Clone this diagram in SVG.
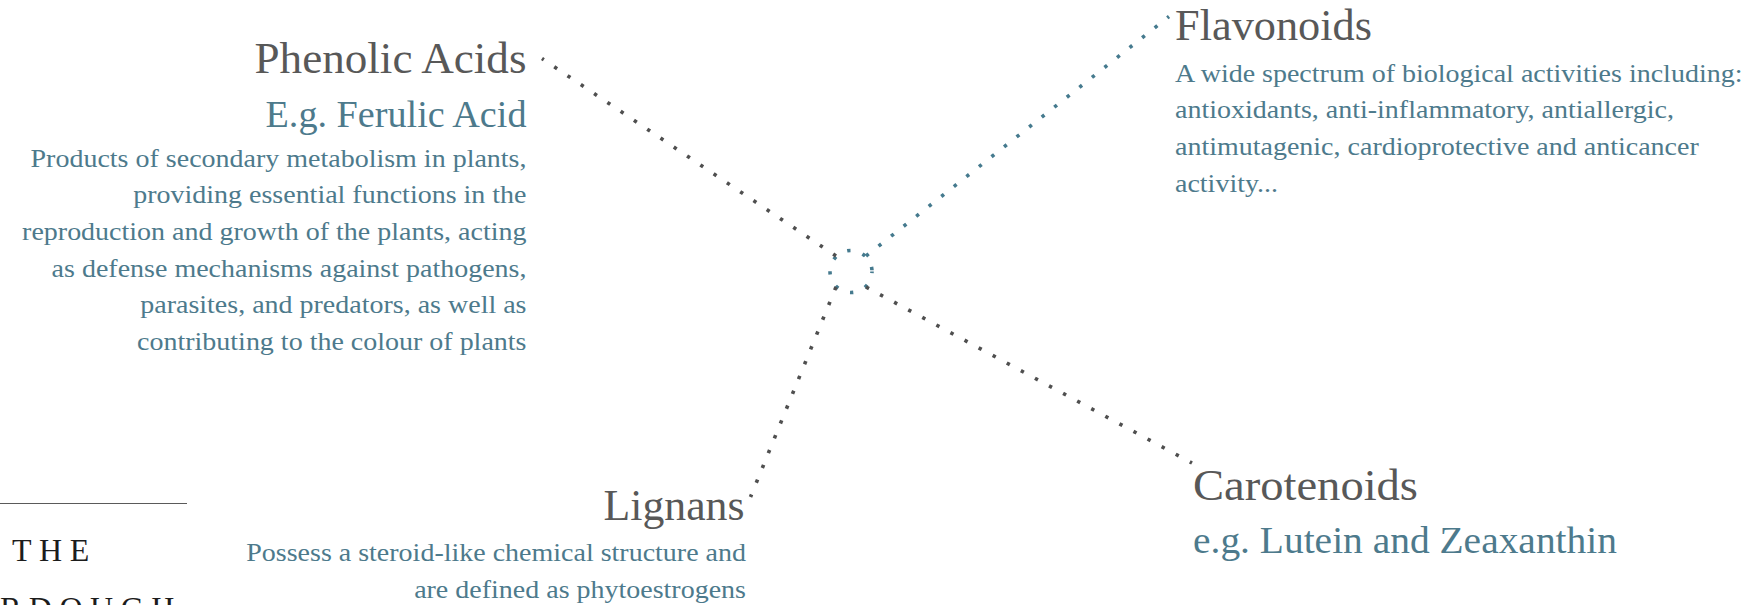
<svg xmlns="http://www.w3.org/2000/svg" width="1761" height="605" viewBox="0 0 1761 605">
  <style>
    .title { font-family: "Liberation Serif", "Times New Roman", serif; font-size: 44px; fill: #585858; }
    .sub { font-family: "Liberation Serif", "Times New Roman", serif; font-size: 38px; fill: #4d7a8c; }
    .body { font-family: "Liberation Serif", "Times New Roman", serif; font-size: 25px; fill: #4d7a8c; }
    .brand { font-family: "Liberation Serif", "Times New Roman", serif; font-size: 32px; fill: #1c1c1c; letter-spacing: 7.5px; }
    .dot-grey { fill: none; stroke: #4f4f4f; stroke-width: 3.6; stroke-dasharray: 3.4 12.6; }
    .dot-blue { fill: none; stroke: #457a8e; stroke-width: 3.6; stroke-dasharray: 3.4 12.6; }
  </style>
  <rect width="1761" height="605" fill="#ffffff"/>

  <!-- dotted connectors radiating from the central hub -->
  <g id="connectors">
    <circle class="dot-blue" cx="851" cy="271.5" r="21" stroke-width="3.2" stroke-dasharray="3.2 13.29" stroke-dashoffset="1.6"/>
    <line class="dot-grey" x1="836" y1="256" x2="542" y2="58.5"/>
    <line class="dot-blue" x1="866" y1="256" x2="1169" y2="16.5"/>
    <line class="dot-grey" x1="866" y1="287" x2="1192" y2="463"/>
    <line class="dot-grey" x1="836" y1="287" x2="750.5" y2="497"/>
  </g>

  <g id="phenolic-acids">
    <text class="title" x="526.5" y="72.5" text-anchor="end" textLength="272" lengthAdjust="spacingAndGlyphs">Phenolic Acids</text>
    <text class="sub" x="526.5" y="126.5" text-anchor="end" textLength="261" lengthAdjust="spacingAndGlyphs">E.g. Ferulic Acid</text>
    <g transform="translate(526.5 0) scale(1.12 1)">
      <text class="body" x="0" y="166.7" text-anchor="end">Products of secondary metabolism in plants,</text>
      <text class="body" x="0" y="203.3" text-anchor="end">providing essential functions in the</text>
      <text class="body" x="0" y="240" text-anchor="end">reproduction and growth of the plants, acting</text>
      <text class="body" x="0" y="276.7" text-anchor="end">as defense mechanisms against pathogens,</text>
      <text class="body" x="0" y="313.3" text-anchor="end">parasites, and predators, as well as</text>
      <text class="body" x="0" y="350" text-anchor="end">contributing to the colour of plants</text>
    </g>
  </g>

  <g id="flavonoids">
    <text class="title" x="1175" y="40" textLength="197" lengthAdjust="spacingAndGlyphs">Flavonoids</text>
    <g transform="translate(1175 0) scale(1.12 1)">
      <text class="body" x="0" y="81.7">A wide spectrum of biological activities including:</text>
      <text class="body" x="0" y="118.3">antioxidants, anti-inflammatory, antiallergic,</text>
      <text class="body" x="0" y="155">antimutagenic, cardioprotective and anticancer</text>
      <text class="body" x="0" y="191.7">activity...</text>
    </g>
  </g>

  <g id="carotenoids">
    <text class="title" x="1193" y="500" textLength="225" lengthAdjust="spacingAndGlyphs">Carotenoids</text>
    <text class="sub" x="1193" y="553" textLength="424" lengthAdjust="spacingAndGlyphs">e.g. Lutein and Zeaxanthin</text>
  </g>

  <g id="lignans">
    <text class="title" x="744.5" y="520" text-anchor="end" textLength="141" lengthAdjust="spacingAndGlyphs">Lignans</text>
    <g transform="translate(746 0) scale(1.12 1)">
      <text class="body" x="0" y="561.5" text-anchor="end">Possess a steroid-like chemical structure and</text>
      <text class="body" x="0" y="598" text-anchor="end">are defined as phytoestrogens</text>
    </g>
  </g>

  <!-- brand mark, running off the bottom edge -->
  <g id="brand-mark">
    <line x1="0" y1="503.5" x2="187" y2="503.5" stroke="#5a5a5a" stroke-width="1"/>
    <text class="brand" x="12" y="561">THE</text>
    <text class="brand" x="0" y="619">RDOUGH</text>
  </g>
</svg>
